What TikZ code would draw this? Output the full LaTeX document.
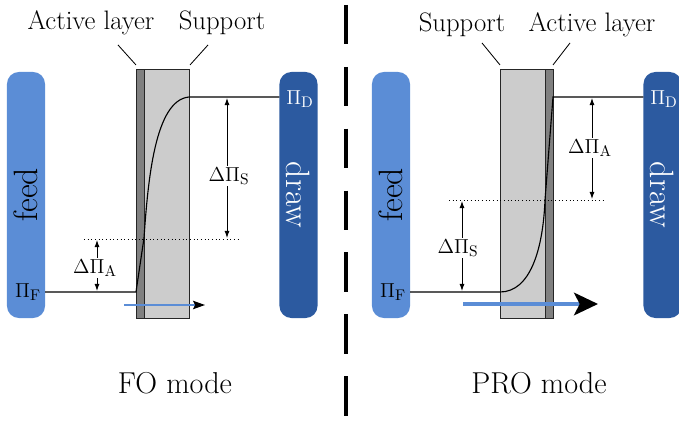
\documentclass[tikz,border=0pt]{standalone}
\usetikzlibrary{arrows.meta}

\definecolor{feedblue}{RGB}{91,141,214}
\definecolor{drawblue}{RGB}{44,90,160}
\definecolor{activegray}{RGB}{128,128,128}
\definecolor{supportgray}{RGB}{204,204,204}

\begin{document}
\begin{tikzpicture}[x=0.025cm, y=-0.025cm,
    bath/.style={rounded corners=0.3cm, minimum width=6.15cm, minimum height=0.95cm,
        inner sep=0pt, outer sep=0pt, font=\fontsize{24}{24}\selectfont},
    feedbath/.style={bath, fill=feedblue, rotate=90},
    drawbath/.style={bath, fill=drawblue, text=white, rotate=-90},
    layer/.style={draw=black!85, line width=0.7pt, minimum height=6.2cm, inner sep=0pt, outer sep=0pt},
    activelayer/.style={layer, fill=activegray, minimum width=0.2cm},
    supportlayer/.style={layer, fill=supportgray, minimum width=1.125cm},
    title/.style={font=\fontsize{19}{19}\selectfont},
    pointer/.style={line width=0.6pt},
    pilabel/.style={font=\fontsize{15}{15}\selectfont, inner sep=1pt},
    profile/.style={line width=0.8pt},
    level/.style={dotted, line width=0.6pt},
    dim/.style={-{Latex[length=5pt,width=3.5pt]}, line width=0.6pt},
    fluxthin/.style={feedblue, line width=1.1pt, -{Stealth[length=8.5pt,width=6pt,inset=1.5pt,color=black]}},
    fluxthick/.style={feedblue, line width=2.8pt, -{Stealth[length=17pt,width=16pt,inset=4pt,color=black]}},
    mode/.style={font=\fontsize{21.5}{21.5}\selectfont},
    divider/.style={line width=3.5pt, dash pattern=on 28pt off 16pt}
]
\useasboundingbox (0,0) rectangle (679,426);

% ---- FO mode ----
\node[feedbath] (feedL) at (26,195) {feed};
\node[drawbath] (drawL) at (298.5,195) {draw};
\node[activelayer] (actL) at (140,194) {};
\node[supportlayer] (supL) at (166.5,194) {};

\node[title] (actTL) at (91,23) {Active layer};
\node[title] (supTL) at (222,23) {Support};
\draw[pointer] ([shift={(-18,-25)}]actL.north west) -- ([shift={(0,-5)}]actL.north west);
\draw[pointer] ([shift={(19,-25)}]supL.north east) -- ([shift={(1,-5)}]supL.north east);

\node[pilabel] (piFL) at (28,292) {$\Pi_{\mathrm{F}}$};
\node[pilabel, text=white] (piDL) at (300,99) {$\Pi_{\mathrm{D}}$};

\coordinate (fL) at (136,292);
\coordinate (kL) at (144,238);
\coordinate (dL) at (189,97);
\draw[profile] (feedL.south |- fL) -- (fL) -- (kL)
    .. controls (148,180) and (155,100) .. (dL) -- (drawL.south |- dL);
\draw[level] (84,239) -- (240,239);

\node[pilabel] (dSL) at (229,176) {$\Delta\Pi_{\mathrm{S}}$};
\coordinate (sTopL) at (227,98);
\coordinate (sBotL) at (227,238);
\draw[dim] (dSL.north -| sTopL) -- (sTopL);
\draw[dim] (dSL.south -| sBotL) -- (sBotL);

\node[pilabel] (dAL) at (95,268) {$\Delta\Pi_{\mathrm{A}}$};
\coordinate (aTopL) at (97,240);
\coordinate (aBotL) at (97,291);
\draw[dim] (dAL.north -| aTopL) -- (aTopL);
\draw[dim] (dAL.south -| aBotL) -- (aBotL);

\coordinate (jwL0) at (124,305);
\coordinate (jwL1) at (205,305);
\draw[fluxthin] (jwL0) -- (jwL1);

\node[mode] (modeL) at (175,383) {FO mode};

% divider
\draw[divider] (346,5) -- (346,430);

% ---- PRO mode ----
\node[feedbath] (feedR) at (391,195) {feed};
\node[drawbath] (drawR) at (662.5,195) {draw};
\node[supportlayer] (supR) at (522.5,194) {};
\node[activelayer] (actR) at (549,194) {};

\node[title] (supTR) at (462,25) {Support};
\node[title] (actTR) at (592,25) {Active layer};
\draw[pointer] ([shift={(-18,-27)}]supR.north west) -- ([shift={(0,-5)}]supR.north west);
\draw[pointer] ([shift={(17,-27)}]actR.north east) -- ([shift={(0,-5)}]actR.north east);

\node[pilabel] (piFR) at (393,292) {$\Pi_{\mathrm{F}}$};
\node[pilabel, text=white] (piDR) at (664,99) {$\Pi_{\mathrm{D}}$};

\coordinate (fR) at (500,292);
\coordinate (kR) at (545,200);
\coordinate (dR) at (553,97);
\draw[profile] (feedR.south |- fR) -- (fR)
    .. controls (530,292) and (543,250) .. (kR) -- (dR) -- (drawR.south |- dR);
\draw[level] (449,200) -- (605,200);

\node[pilabel] (dAR) at (590,148) {$\Delta\Pi_{\mathrm{A}}$};
\coordinate (aTopR) at (592,98);
\coordinate (aBotR) at (592,199);
\draw[dim] (dAR.north -| aTopR) -- (aTopR);
\draw[dim] (dAR.south -| aBotR) -- (aBotR);

\node[pilabel] (dSR) at (458,248) {$\Delta\Pi_{\mathrm{S}}$};
\coordinate (sTopR) at (462,201);
\coordinate (sBotR) at (462,291);
\draw[dim] (dSR.north -| sTopR) -- (sTopR);
\draw[dim] (dSR.south -| sBotR) -- (sBotR);

\coordinate (jwR0) at (463,304);
\coordinate (jwR1) at (598,304);
\draw[fluxthick] (jwR0) -- (jwR1);

\node[mode] (modeR) at (539,383) {PRO mode};
\end{tikzpicture}
\end{document}
